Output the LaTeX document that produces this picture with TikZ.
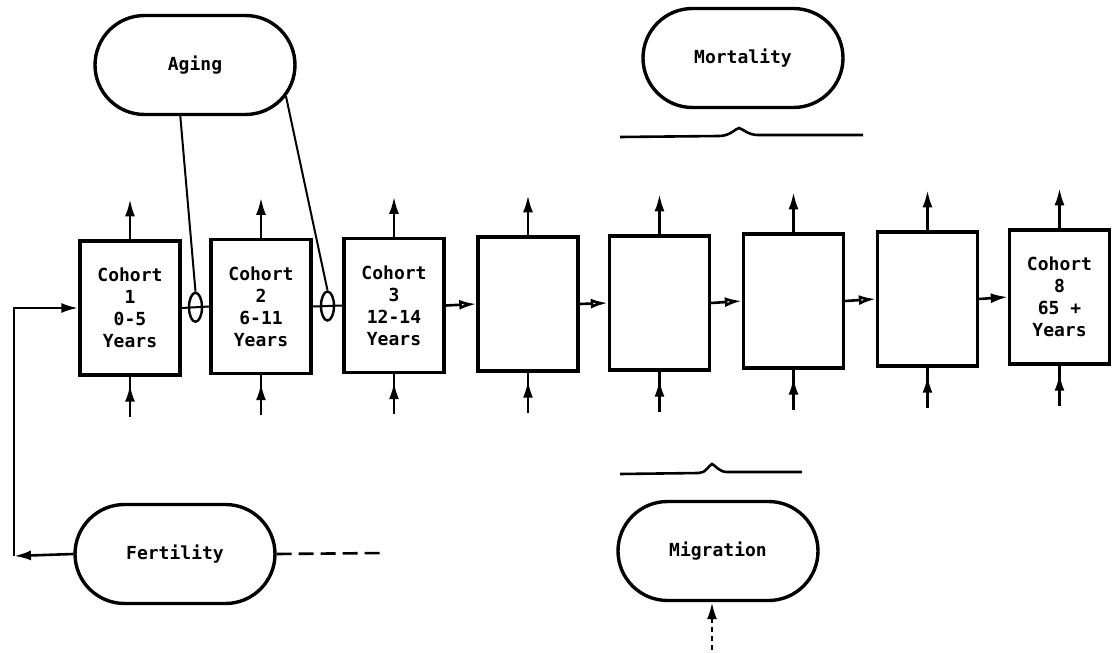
\documentclass[tikz,border=0pt]{standalone}
\usepackage{fontspec}
\setmainfont{DejaVu Sans Mono}
\usetikzlibrary{shapes.geometric,shapes.misc,arrows.meta,calc,decorations.markings}

\begin{document}
\begin{tikzpicture}[x=1pt,y=-1pt,
  every node/.style={font=\fontsize{18}{22}\selectfont\bfseries},
  cohort/.style={draw, line width=3.4pt, minimum width=100pt, minimum height=134pt,
                 align=center, inner sep=0pt},
  pill/.style={draw, rounded rectangle, line width=3.4pt, minimum width=200pt,
               minimum height=99pt, inner sep=0pt},
  valve/.style={draw, ellipse, line width=2.4pt, minimum width=13pt,
                minimum height=29pt, inner sep=0pt},
  flow/.style={line width=2.6pt, -{Latex[length=17pt,width=10pt]}},
  openflow/.style={line width=2.6pt, -{Latex[open,length=17pt,width=10pt]}},
  inflow/.style={line width=2.6pt, postaction={decorate},
    decoration={markings, mark=at position 0.8 with {\arrow{Latex[length=17pt,width=10pt]}}}},
  link/.style={line width=2pt},
  brace/.style={line width=2.6pt},
  fdash/.style={line width=2.6pt, dash pattern=on 15pt off 7pt},
  mdash/.style={line width=2.6pt, dash pattern=on 5pt off 4pt},
]
\useasboundingbox (0,0) rectangle (1112,653);

% rate processes
\node[pill] (aging) at (195,65)  {Aging};
\node[pill] (mort)  at (743,58)  {Mortality};
\node[pill] (fert)  at (175,554) {Fertility};
\node[pill] (mig)   at (718,551) {Migration};

% age cohorts
\node[cohort] (b1) at (130,308)    {Cohort\\1\\0-5\\Years};
\node[cohort] (b2) at (261,306.5)  {Cohort\\2\\6-11\\Years};
\node[cohort] (b3) at (394,305.5)  {Cohort\\3\\12-14\\Years};
\node[cohort] (b4) at (528,304)    {};
\node[cohort] (b5) at (659.5,303)  {};
\node[cohort] (b6) at (793.5,301)  {};
\node[cohort] (b7) at (927.5,299)  {};
\node[cohort] (b8) at (1059.5,297) {Cohort\\8\\65 +\\Years};

% outflow above and inflow below each cohort
\foreach \i in {1,...,8} {
  \coordinate (up\i) at ($(b\i.north)+(0,-40)$);
  \coordinate (dn\i) at ($(b\i.south)+(0,40)$);
  \draw[flow] (b\i.north) -- (up\i);
  \draw[inflow] (dn\i) -- (b\i.south);
}

% aging valves between the first cohorts
\node[valve] (v1) at ($(b1.east)!0.5!(b2.west)$) {};
\node[valve] (v2) at ($(b2.east)!0.5!(b3.west)$) {};
\draw[link] (b1.east) -- (b2.west);
\draw[link] (b2.east) -- (b3.west);
\draw[link] (aging.-106) -- (v1.north);
\draw[link] (aging.-19) -- (v2.north);

% transfers between later cohorts
\draw[openflow] (b3.east) -- (b4.west);
\draw[openflow] (b4.east) -- (b5.west);
\draw[openflow] (b5.east) -- (b6.west);
\draw[openflow] (b6.east) -- (b7.west);
\draw[flow] (b7.east) -- (b8.west);

% births feed back into the first cohort
\coordinate (fc) at (14,556);
\draw[flow] (fert.west) -- (fc);
\draw[flow] (fc) |- (b1.west);
\coordinate (fend) at (385,553);
\draw[fdash] (fert.east) -- (fend);

% migration input
\coordinate (mbot) at (712,650);
\coordinate (mmid) at (712,621);
\draw[mdash] (mbot) -- (mmid);
\draw[flow] (mmid) -- (mmid |- mig.south);

% braces
\draw[brace] (620,137) -- (719,136) .. controls (730,136) and (735,129) .. (739,128)
  .. controls (743,129) and (748,135) .. (758,135) -- (863,135);
\draw[brace] (620,474) -- (699,473) .. controls (706,473) and (709,465) .. (712,464)
  .. controls (715,465) and (719,472) .. (727,472) -- (802,472);
\end{tikzpicture}
\end{document}
